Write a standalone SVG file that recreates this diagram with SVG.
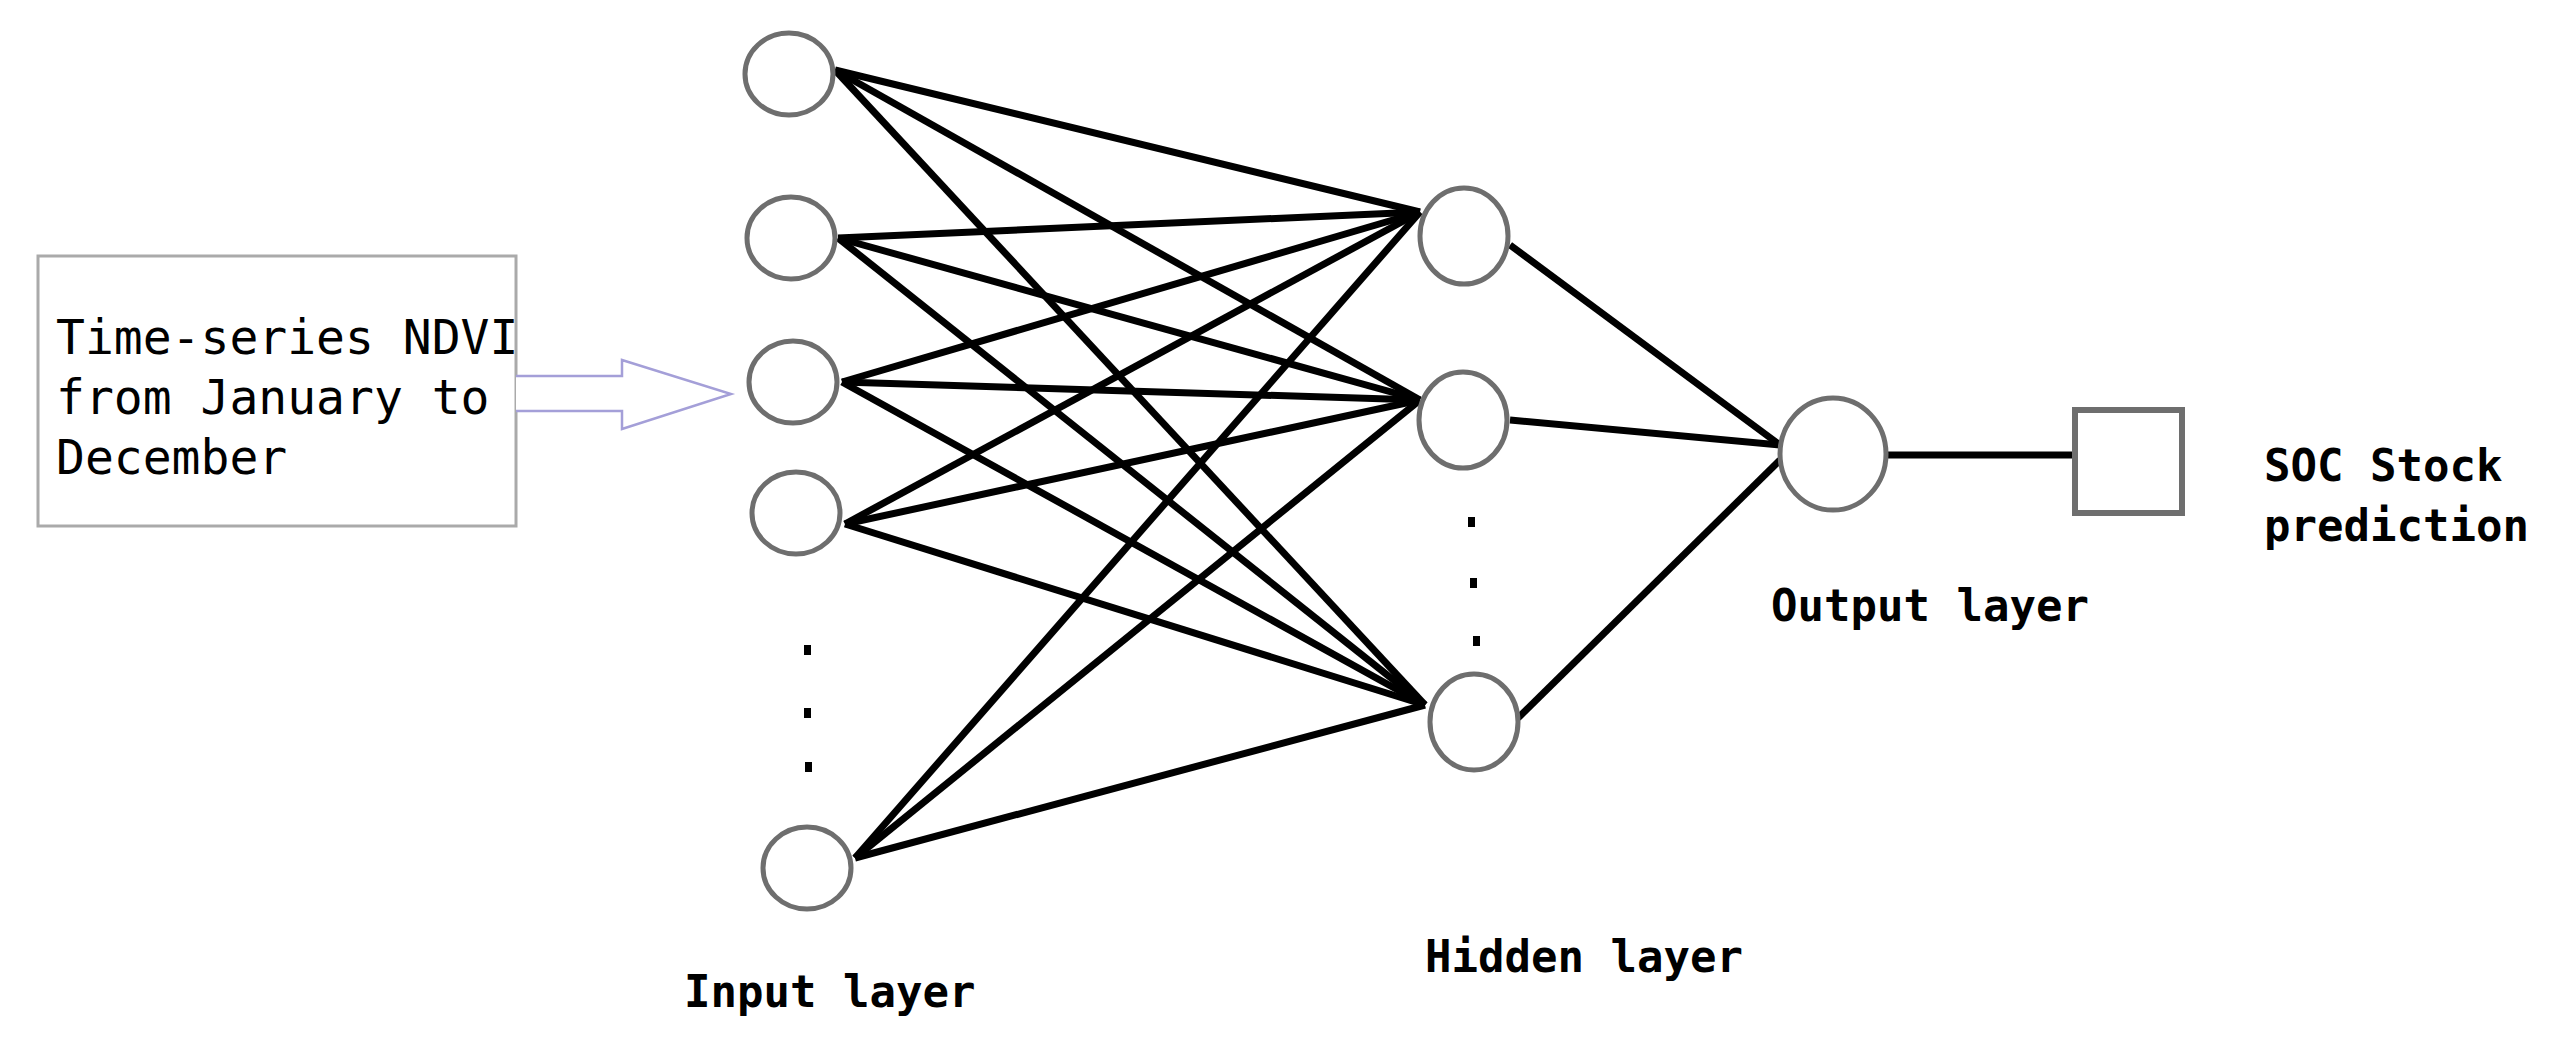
<svg xmlns="http://www.w3.org/2000/svg" width="2568" height="1037" viewBox="0 0 2568 1037">
<style>
.n{fill:#fff;stroke:#6e6e6e;stroke-width:5}
.c line{stroke:#000;stroke-width:7}
.t{font-family:"DejaVu Sans Mono","Liberation Mono",monospace;font-size:44px;fill:#000}
.bx{font-size:48px}
.b{font-weight:bold}
.d{fill:#000}
</style>
<rect width="2568" height="1037" fill="#fff"/>
<g id="connectors" class="c">
<line x1="835" y1="70" x2="1420" y2="212"/><line x1="835" y1="70" x2="1420" y2="400"/><line x1="835" y1="70" x2="1425" y2="705"/>
<line x1="838" y1="238" x2="1420" y2="212"/><line x1="838" y1="238" x2="1420" y2="400"/><line x1="838" y1="238" x2="1425" y2="705"/>
<line x1="842" y1="382" x2="1420" y2="212"/><line x1="842" y1="382" x2="1420" y2="400"/><line x1="842" y1="382" x2="1425" y2="705"/>
<line x1="845" y1="524" x2="1420" y2="212"/><line x1="845" y1="524" x2="1420" y2="400"/><line x1="845" y1="524" x2="1425" y2="705"/>
<line x1="855" y1="858" x2="1420" y2="212"/><line x1="855" y1="858" x2="1420" y2="400"/><line x1="855" y1="858" x2="1425" y2="705"/>
<line x1="1510" y1="245" x2="1780" y2="445"/><line x1="1510" y1="420" x2="1780" y2="445"/><line x1="1518" y1="718" x2="1780" y2="460"/>
<line x1="1887" y1="455" x2="2077" y2="455"/>
</g>
<g id="input-box"><rect x="38" y="256" width="478" height="270" fill="#fff" stroke="#aaa" stroke-width="3"/>
<text class="t bx" x="56" y="354">Time-series NDVI</text><text class="t bx" x="56" y="414">from January to</text><text class="t bx" x="56" y="474">December</text></g>
<g id="arrow"><path d="M516 376 H622 V360 L731 394 L622 429 V411 H516" fill="#fff" stroke="#a49fd8" stroke-width="2.5"/></g>
<g id="in1"><ellipse class="n" cx="789" cy="74" rx="44" ry="41"/></g>
<g id="in2"><ellipse class="n" cx="791" cy="238" rx="44" ry="41"/></g>
<g id="in3"><ellipse class="n" cx="793" cy="382" rx="44" ry="41"/></g>
<g id="in4"><ellipse class="n" cx="796" cy="513" rx="44" ry="41"/></g>
<g id="in5"><ellipse class="n" cx="807" cy="868" rx="44" ry="41"/></g>
<g id="h1"><ellipse class="n" cx="1464" cy="236" rx="44" ry="48"/></g>
<g id="h2"><ellipse class="n" cx="1463" cy="420" rx="44" ry="48"/></g>
<g id="h3"><ellipse class="n" cx="1474" cy="722" rx="44" ry="48"/></g>
<g id="out"><ellipse class="n" cx="1833" cy="454" rx="53" ry="56"/></g>
<g id="result"><rect x="2075" y="410" width="107" height="103" fill="#fff" stroke="#6e6e6e" stroke-width="6"/></g>
<g id="dots">
<rect class="d" x="804" y="645" width="7" height="10"/><rect class="d" x="804" y="708" width="7" height="10"/><rect class="d" x="805" y="762" width="7" height="10"/>
<rect class="d" x="1468" y="517" width="7" height="10"/><rect class="d" x="1470" y="578" width="7" height="10"/><rect class="d" x="1473" y="636" width="7" height="10"/>
</g>
<g id="labels">
<text class="t b" x="684" y="1007">Input layer</text>
<text class="t b" x="1425" y="972">Hidden layer</text>
<text class="t b" x="1771" y="621">Output layer</text>
<text class="t b" x="2264" y="481">SOC Stock</text>
<text class="t b" x="2264" y="541">prediction</text>
</g>
</svg>
